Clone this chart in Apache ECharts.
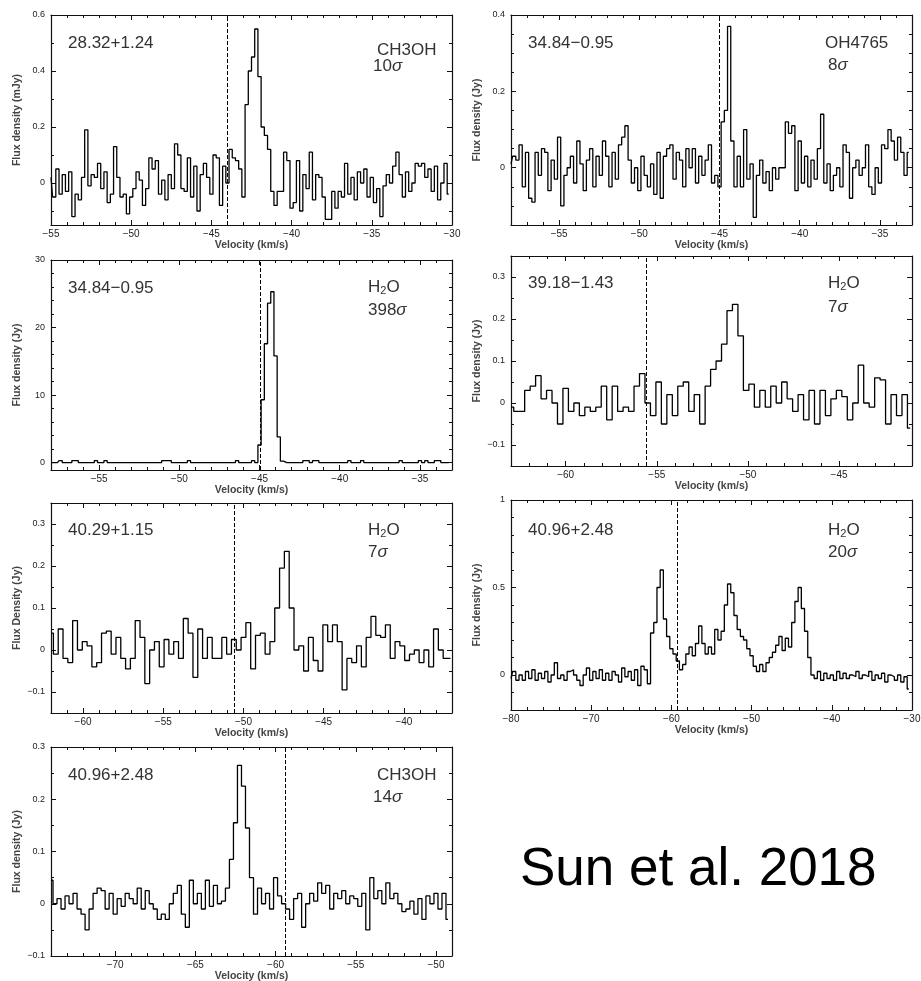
<!DOCTYPE html>
<html><head><meta charset="utf-8">
<script src="https://cdn.jsdelivr.net/npm/echarts@6/dist/echarts.min.js"></script>
<style>html,body{margin:0;padding:0;background:#fff}#c{width:921px;height:981px}</style>
</head><body><div id="c"></div>
<script>
// ---------- DATA ----------
// Panel 1: 28.32+1.24 CH3OH
const p1Start = -55.0, p1Step = 0.2;
const p1Flux = [0.02,-0.05,0.05,-0.04,0.03,-0.03,0.04,-0.12,-0.04,-0.06,
 0.02,0.19,-0.01,0.03,0.02,0.07,-0.02,0.04,-0.07,-0.04,
 0.13,0.02,-0.05,-0.04,-0.11,-0.05,-0.02,0.04,0.01,-0.08,
 -0.02,0.09,0.05,0.08,-0.04,0.01,-0.06,0.03,-0.02,0.14,
 0.1,-0.02,-0.03,0.09,-0.05,0.06,-0.1,0.03,0.07,0.02,
 -0.04,0.1,0.09,-0.08,0.06,0.0,0.12,0.09,0.08,0.05,
 -0.05,0.28,0.4,0.45,0.55,0.38,0.2,0.17,0.12,-0.03,
 -0.08,-0.03,-0.03,0.11,0.08,-0.09,-0.07,0.08,-0.1,0.03,
 -0.02,0.11,-0.06,0.03,0.02,-0.05,-0.13,-0.13,-0.03,-0.09,
 -0.03,-0.05,0.07,-0.04,0.02,-0.06,0.04,0.0,0.05,-0.05,
 0.02,-0.07,-0.02,-0.12,-0.01,0.03,0.0,0.06,0.11,0.03,
 -0.05,0.04,-0.03,0.0,0.07,0.06,0.07,0.02,0.05,-0.03,
 0.06,-0.06,0.0,0.07,-0.04];
// Panel 2: 34.84-0.95 OH4765
const p2Start = -58.0, p2Step = 0.2;
const p2Flux = [0.01,0.03,0.02,0.06,-0.05,0.04,-0.08,-0.09,0.04,-0.02,
 0.05,0.04,-0.06,0.02,-0.03,0.08,-0.1,-0.02,0.0,0.03,
 -0.04,0.07,0.01,-0.06,0.02,0.05,-0.05,0.03,-0.02,0.07,
 0.03,-0.05,0.04,-0.03,0.06,0.08,0.11,0.02,-0.04,0.0,
 -0.06,0.03,-0.02,-0.05,0.01,-0.07,0.04,-0.08,0.03,0.05,
 0.06,-0.03,0.04,0.02,-0.05,0.05,0.0,0.05,-0.04,0.03,
 -0.02,0.02,0.06,-0.04,-0.02,-0.05,0.12,0.15,0.37,0.07,
 -0.05,0.03,-0.05,0.1,-0.03,0.01,-0.13,-0.02,0.02,-0.04,
 -0.01,-0.06,0.0,-0.03,0.0,0.0,0.12,0.09,0.11,-0.06,
 0.07,-0.04,0.03,-0.05,0.02,-0.03,0.05,0.14,-0.04,0.01,
 -0.06,-0.02,0.0,-0.05,0.06,0.04,-0.08,0.0,0.02,-0.02,
 0.0,0.06,-0.05,-0.07,0.0,-0.04,0.06,0.05,0.1,0.07,
 0.02,0.08,0.04,-0.02,0.04];
// Panel 3: 34.84-0.95 H2O
const p3Start = -58.0, p3Step = 0.2;
const p3Flux = [0,0,0,0.3,0,0,0,0.3,0.3,0,
 0,0,0,0,0.3,0,0,0.3,0,0,
 0,0,0,0,0,0,0,0,0,0,
 0,0,0,0,0,0.3,0.3,0.3,0,0,
 0,0,0,0.3,0,0,0,0,0,0,
 0,0,0,0,0,0,0,0,0.3,0,
 0,0,0,0.3,0,2.6,9.3,17.6,23.6,25.3,
 15.8,3.8,0.2,0,0,0,0,0,0,0.3,
 0.3,0,0.3,0.3,0,0,0,0,0,0,
 0,0,0,0.3,0,0,0,0.3,0,0,
 0,0,0,0,0,0,0,0,0,0.3,
 0,0,0,0,0,0.3,0,0.3,0,0,
 0.3,0.3,0,0,0];
// Panel 4: 39.18-1.43 H2O
const p4Start = -63.0, p4Step = 0.3;
const p4Flux = [-0.01,-0.02,-0.02,0.03,0.04,0.065,0.01,0.03,0.0,-0.05,
 0.035,-0.02,0.0,-0.03,-0.01,-0.02,-0.01,0.04,-0.04,0.04,
 -0.02,-0.01,-0.02,0.04,0.07,0.0,-0.03,0.05,-0.05,0.02,
 -0.03,0.04,0.05,-0.02,0.02,-0.05,0.04,0.08,0.1,0.14,
 0.22,0.235,0.16,0.03,0.045,-0.01,0.03,-0.01,0.04,0.0,
 0.05,0.01,-0.02,0.02,-0.04,0.03,-0.05,0.03,-0.03,0.01,
 0.03,0.015,-0.04,0.0,0.09,0.0,-0.01,0.06,0.055,-0.05,
 0.02,-0.03,0.02,-0.06];
// Panel 5: 40.29+1.15 H2O
const p5Start = -62.0, p5Step = 0.3;
const p5Flux = [0.04,-0.01,0.05,-0.02,-0.03,0.07,0.0,0.02,0.01,-0.04,
 -0.03,0.04,0.045,-0.01,0.03,-0.02,-0.045,-0.02,0.07,0.03,
 -0.08,0.0,0.02,-0.04,0.025,-0.01,0.02,-0.02,0.075,0.04,
 -0.065,0.05,-0.02,0.03,-0.02,-0.02,0.03,-0.01,0.025,0.0,
 0.03,0.065,-0.045,0.035,0.04,-0.01,0.02,0.1,0.195,0.235,
 0.1,0.0,0.01,-0.05,0.03,-0.025,-0.05,0.06,0.02,0.06,
 0.02,-0.095,-0.02,-0.03,0.01,-0.04,0.03,0.08,0.035,0.03,
 0.06,-0.02,0.02,0.01,-0.025,-0.01,0.0,-0.03,0.0,-0.04,
 0.05,0.0,-0.02,-0.02];
// Panel 6: 40.96+2.48 H2O
const p6Start = -80.0, p6Step = 0.4;
const p6Flux = [-0.02,0.02,-0.03,0.0,-0.03,0.02,-0.02,0.03,-0.03,0.01,
 -0.02,0.02,-0.04,0.0,0.07,-0.02,0.0,-0.03,0.02,0.03,
 0.0,-0.03,-0.06,0.0,0.04,-0.03,0.02,-0.02,0.03,-0.03,
 0.01,-0.03,0.02,0.0,-0.04,0.04,-0.01,0.02,-0.03,0.03,
 -0.06,0.05,0.03,-0.05,0.24,0.3,0.5,0.6,0.32,0.22,
 0.15,0.12,0.08,0.03,0.06,0.12,0.16,0.11,0.18,0.28,
 0.18,0.12,0.16,0.12,0.26,0.2,0.25,0.4,0.52,0.47,
 0.34,0.26,0.22,0.2,0.15,0.11,0.05,0.02,0.06,0.02,
 0.07,0.1,0.13,0.17,0.22,0.14,0.21,0.16,0.3,0.42,
 0.5,0.38,0.25,0.1,0.0,-0.02,0.02,-0.03,0.01,-0.02,
 0.0,-0.03,0.02,-0.02,0.01,-0.02,0.0,-0.01,0.02,-0.02,
 0.0,-0.01,0.02,-0.03,0.0,-0.02,0.01,-0.04,0.0,-0.01,
 -0.03,0.0,-0.04,-0.01,-0.08];
// Panel 7: 40.96+2.48 CH3OH
const p7Start = -74.0, p7Step = 0.25;
const p7Flux = [0.045,0.0,0.01,-0.01,0.015,0.0,0.02,-0.01,-0.02,-0.05,
 -0.01,0.02,0.03,0.025,-0.01,0.02,-0.02,0.01,-0.005,0.02,
 0.01,0.0,0.03,-0.01,0.025,0.0,-0.01,-0.03,-0.02,-0.03,
 0.0,0.02,0.035,-0.02,-0.045,0.045,0.0,0.02,-0.01,0.045,
 -0.005,0.035,0.0,0.005,0.03,0.085,0.155,0.265,0.225,0.145,
 0.05,-0.02,0.03,0.0,0.02,-0.01,0.05,0.015,0.0,-0.01,
 -0.03,0.01,0.02,-0.045,0.0,0.02,0.005,0.04,0.02,0.035,
 -0.01,0.02,0.01,0.025,0.0,0.015,0.01,-0.005,0.02,-0.05,
 0.05,0.01,0.025,0.0,0.04,0.01,0.02,0.0,-0.015,-0.01,
 0.005,-0.02,0.01,-0.03,0.015,0.0,0.02,-0.01,0.02,-0.03];

// axis ranges & ticks
const xRanges = [[-55,-30],[-58,-33],[-58,-33],[-63,-41],[-62,-37],[-80,-30],[-74,-49]];
const xMajorTicks = [[-55,-50,-45,-40,-35,-30],[-55,-50,-45,-40,-35],[-55,-50,-45,-40,-35],
  [-60,-55,-50,-45],[-60,-55,-50,-45,-40],[-80,-70,-60,-50,-40,-30],[-70,-65,-60,-55,-50]];
const xMinorSteps = [1,1,1,1,1,2,1];
const yRanges = [[-0.15,0.6],[-0.15,0.4],[-1.1,30],[-0.15,0.35],[-0.15,0.35],[-0.2,1],[-0.1,0.3]];
const yMajorTicks = [[0,0.2,0.4,0.6],[0,0.2,0.4],[0,10,20,30],[-0.1,0,0.1,0.2,0.3],
  [-0.1,0,0.1,0.2,0.3],[0,0.5,1],[-0.1,0,0.1,0.2,0.3]];
const yMinorSteps = [0.1,0.05,2,0.05,0.05,0.1,0.05];
const refVelocities = [-44,-45,-44.95,-55.6,-50.6,-59.3,-59.4];
const yNames = ['Flux density (mJy)','Flux density (Jy)','Flux density (Jy)','Flux density (Jy)',
  'Flux Density (Jy)','Flux density (Jy)','Flux density (Jy)'];
const sources = ['28.32+1.24','34.84\u22120.95','34.84\u22120.95','39.18\u22121.43','40.29+1.15','40.96+2.48','40.96+2.48'];
const species = ['CH3OH','OH4765','H2O','H2O','H2O','H2O','CH3OH'];
const sigmas = ['10','8','398','7','7','20','14'];

const fluxes = [p1Flux,p2Flux,p3Flux,p4Flux,p5Flux,p6Flux,p7Flux];
const starts = [p1Start,p2Start,p3Start,p4Start,p5Start,p6Start,p7Start];
const steps = [p1Step,p2Step,p3Step,p4Step,p5Step,p6Step,p7Step];

// ---------- LAYOUT ----------
const grids = [
  {left:51, top:15, width:401, height:210},
  {left:511, top:15, width:401, height:210},
  {left:51, top:260, width:401, height:210},
  {left:511, top:256, width:401, height:210},
  {left:51, top:503, width:401, height:210},
  {left:511, top:500, width:401, height:210},
  {left:51, top:747, width:401, height:209}
];
// annotation positions: [sourceX, sourceY, speciesX, speciesY, sigmaX, sigmaY]
const annot = [
  [68,43,377,50,373,66],[528,43,825,43,828,65],[68,288,368,287,368,310],[528,283,828,283,828,307],
  [68,530,368,530,368,552],[528,530,828,530,828,552],[68,775,377,775,373,797]
];

function fmt(v){ const s = String(+(+v).toFixed(4)); return s.replace('-', '\u2212'); }
function minorList(min,max,step){
  const out=[]; for(let k=Math.ceil(min/step-1e-9); k*step<=max+1e-9; k++){ out.push(+(k*step).toFixed(6)); } return out;
}

const FONT = "'Liberation Sans', Arial, Helvetica, sans-serif";
const axisCol = '#111';
const xAxes=[], yAxes=[], series=[], graphics=[];
grids.forEach((g,i)=>{
  const [xmin,xmax]=xRanges[i], [ymin,ymax]=yRanges[i];
  const xMin = minorList(xmin,xmax,xMinorSteps[i]);
  const yMin = minorList(ymin,ymax,yMinorSteps[i]);
  const baseX = {type:'value', gridIndex:i, min:xmin, max:xmax, splitLine:{show:false}};
  const baseY = {type:'value', gridIndex:i, min:ymin, max:ymax, splitLine:{show:false}};
  xAxes.push(Object.assign({}, baseX, {position:'bottom',
    name:'Velocity (km/s)', nameLocation:'middle', nameGap:13,
    nameTextStyle:{fontSize:10.5, fontWeight:'bold', color:'#444', fontFamily:FONT},
    axisLine:{show:true, onZero:false, lineStyle:{color:axisCol,width:1.2}},
    axisTick:{show:true, inside:true, length:5, customValues:xMajorTicks[i], lineStyle:{color:axisCol,width:1}},
    axisLabel:{show:true, customValues:xMajorTicks[i], formatter:fmt, fontSize:10, color:'#222', margin:4, fontFamily:FONT}}));
  xAxes.push(Object.assign({}, baseX, {position:'bottom', axisLine:{show:false, onZero:false}, axisLabel:{show:false},
    axisTick:{show:true, inside:true, length:3, customValues:xMin, lineStyle:{color:axisCol,width:1}}}));
  xAxes.push(Object.assign({}, baseX, {position:'top', axisLine:{show:true, onZero:false, lineStyle:{color:axisCol,width:1.2}}, axisLabel:{show:false},
    axisTick:{show:true, inside:true, length:5, customValues:xMajorTicks[i], lineStyle:{color:axisCol,width:1}}}));
  xAxes.push(Object.assign({}, baseX, {position:'top', axisLine:{show:false, onZero:false}, axisLabel:{show:false},
    axisTick:{show:true, inside:true, length:3, customValues:xMin, lineStyle:{color:axisCol,width:1}}}));

  yAxes.push(Object.assign({}, baseY, {position:'left',
    name:yNames[i], nameLocation:'middle', nameGap:28,
    nameTextStyle:{fontSize:10.5, fontWeight:'bold', color:'#444', fontFamily:FONT},
    axisLine:{show:true, onZero:false, lineStyle:{color:axisCol,width:1.2}},
    axisTick:{show:true, inside:true, length:5, customValues:yMajorTicks[i], lineStyle:{color:axisCol,width:1}},
    axisLabel:{show:true, customValues:yMajorTicks[i], formatter:fmt, fontSize:9, color:'#222', margin:6, fontFamily:FONT}}));
  yAxes.push(Object.assign({}, baseY, {position:'left', axisLine:{show:false, onZero:false}, axisLabel:{show:false},
    axisTick:{show:true, inside:true, length:3, customValues:yMin, lineStyle:{color:axisCol,width:1}}}));
  yAxes.push(Object.assign({}, baseY, {position:'right', axisLine:{show:true, onZero:false, lineStyle:{color:axisCol,width:1.2}}, axisLabel:{show:false},
    axisTick:{show:true, inside:true, length:5, customValues:yMajorTicks[i], lineStyle:{color:axisCol,width:1}}}));
  yAxes.push(Object.assign({}, baseY, {position:'right', axisLine:{show:false, onZero:false}, axisLabel:{show:false},
    axisTick:{show:true, inside:true, length:3, customValues:yMin, lineStyle:{color:axisCol,width:1}}}));

  const data = fluxes[i].map((f,k)=>[+(starts[i]+k*steps[i]).toFixed(3), f]);
  series.push({type:'line', xAxisIndex:4*i, yAxisIndex:4*i, data:data, step:'middle',
    showSymbol:false, symbol:'none', clip:true,
    lineStyle:{color:'#000', width:1.3}, animation:false,
    markLine:{silent:true, symbol:['none','none'], label:{show:false},
      lineStyle:{type:[4,2], color:'#000', width:1}, data:[{xAxis:refVelocities[i]}]}});

  const a = annot[i];
  graphics.push({type:'text', x:a[0], y:a[1], style:{text:sources[i], fill:'#333', font:'17px '+FONT, verticalAlign:'middle', align:'left'}});
  let spText = species[i]==='H2O' ? '{n|H}{s|2}{n|O}' : '{n|'+species[i]+'}';
  graphics.push({type:'text', x:a[2], y:a[3], style:{text:spText, fill:'#333', verticalAlign:'middle', align:'left',
    rich:{n:{fontSize:17, fontFamily:FONT, fill:'#333'}, s:{fontSize:11, fontFamily:FONT, fill:'#333', verticalAlign:'bottom', padding:[8,0,0,0]}}}});
  graphics.push({type:'text', x:a[4], y:a[5], style:{text:'{n|'+sigmas[i]+'}{g|\u03c3}', fill:'#333', verticalAlign:'middle', align:'left',
    rich:{n:{fontSize:17, fontFamily:FONT, fill:'#333'}, g:{fontSize:17, fontFamily:FONT, fontStyle:'italic', fill:'#333'}}}});
});
graphics.push({type:'text', x:520, y:870, style:{text:'Sun et al. 2018', fill:'#000', font:'53px '+FONT, verticalAlign:'middle', align:'left'}});

const chart = echarts.init(document.getElementById('c'), null, {renderer:'canvas'});
chart.setOption({
  animation:false,
  backgroundColor:'#fff',
  grid: grids.map(g=>Object.assign({containLabel:false, outerBoundsMode:'none'}, g)),
  xAxis: xAxes, yAxis: yAxes, series: series, graphic: graphics
});
</script></body></html>
